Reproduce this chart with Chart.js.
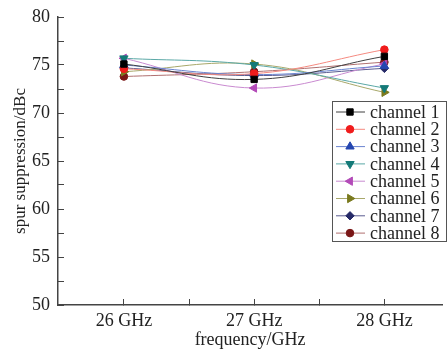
<!DOCTYPE html>
<html>
<head>
<meta charset="utf-8">
<script src="https://cdn.jsdelivr.net/npm/chart.js@4"></script>
<style>
  html, body { margin: 0; padding: 0; background: #fff; }
  #wrap { width: 448px; height: 353px; position: relative; }
</style>
</head>
<body>
<div id="wrap"><canvas id="chart"></canvas></div>
<script>
// frequencies in GHz
const freqs = [26, 27, 28];
const tickLabels = ["26 GHz", "27 GHz", "28 GHz"];

const channelNames = ["channel 1", "channel 2", "channel 3", "channel 4",
                      "channel 5", "channel 6", "channel 7", "channel 8"];

const ch1 = [75.1, 73.5, 75.9];
const ch2 = [74.6, 74.1, 76.6];
const ch3 = [75.0, 74.0, 74.9];
const ch4 = [75.7, 75.0, 72.6];
const ch5 = [75.7, 72.6, 75.1];
const ch6 = [74.3, 75.1, 72.15];
const ch7 = [74.7, 73.9, 74.65];
const ch8 = [73.8, 74.3, 75.3];

const series = [ch1, ch2, ch3, ch4, ch5, ch6, ch7, ch8];
const markerColors = ["#000000", "#f01c1c", "#2446b0", "#147a78", "#b34ab8", "#7a7a1e", "#262a68", "#7a1616"];
const lineColors   = ["#404040", "#f58a80", "#6a84d0", "#5aa8a6", "#c98ad0", "#a8a86a", "#5a5c90", "#b07070"];
const markers = ["rect", "circle", "triangle", "triangle", "triangle", "triangle", "rectRot", "circle"];
const rotations = [0, 0, 0, 180, 270, 90, 0, 0];
const sizes = [4.5, 3.8, 4.8, 4.8, 4.8, 4.8, 4.2, 3.8];

const font = "'Liberation Serif', 'Times New Roman', serif";

const datasets = series.map((vals, i) => ({
    label: channelNames[i],
    data: vals.map((v, j) => ({ x: freqs[j], y: v })),
    borderColor: lineColors[i],
    pointBorderColor: markerColors[i],
    pointBackgroundColor: markerColors[i],
    pointStyle: markers[i],
    pointRotation: rotations[i],
    pointRadius: sizes[i],
    borderWidth: 1,
    tension: 0.4
}));

// boxed legend inside the plot area, on the right
const boxLegend = {
    id: "boxLegend",
    afterDraw(chart) {
        const ctx = chart.ctx;
        ctx.save();
        ctx.fillStyle = "#fff";
        ctx.fillRect(332.5, 101.5, 114, 140);
        ctx.strokeStyle = "#555";
        ctx.lineWidth = 1;
        ctx.strokeRect(332.5, 101.5, 114, 140);
        ctx.font = "18px " + font;
        ctx.textBaseline = "middle";
        chart.data.datasets.forEach((ds, i) => {
            const y = 112 + i * 17.3;
            ctx.strokeStyle = ds.borderColor;
            ctx.lineWidth = 1;
            ctx.beginPath();
            ctx.moveTo(336, y);
            ctx.lineTo(365, y);
            ctx.stroke();
            ctx.fillStyle = ds.pointBackgroundColor;
            ctx.strokeStyle = ds.pointBorderColor;
            Chart.helpers.drawPoint(ctx, {
                pointStyle: ds.pointStyle,
                rotation: ds.pointRotation,
                radius: ds.pointRadius,
                borderWidth: 1
            }, 350, y);
            ctx.fillStyle = "#222";
            ctx.fillText(ds.label, 370, y + 1);
        });
        ctx.restore();
    }
};

new Chart(document.getElementById("chart"), {
    type: "line",
    data: { datasets },
    plugins: [boxLegend],
    options: {
        responsive: true,
        maintainAspectRatio: false,
        animation: false,
        layout: { padding: { top: 17, right: 0, left: 10, bottom: 0 } },
        plugins: {
            legend: { display: false },
            tooltip: { enabled: false }
        },
        scales: {
            x: {
                type: "linear",
                min: 25.494,
                max: 28.444,
                afterBuildTicks(axis) {
                    axis.ticks = [25.5, 26, 26.5, 27, 27.5, 28].map(v => ({ value: v }));
                },
                afterFit(axis) {
                    axis.paddingRight = 0;
                    axis.paddingLeft = 0;
                    axis.height = 48;
                },
                grid: {
                    drawOnChartArea: false,
                    drawTicks: true,
                    tickLength: -6,
                    color: (c) => (c.tick && c.tick.value === 25.5) ? "rgba(0,0,0,0)" : "#444",
                    tickWidth: 1
                },
                border: { color: "#444", width: 1.5 },
                ticks: {
                    color: "#222",
                    font: { family: font, size: 18 },
                    padding: 11,
                    autoSkip: false,
                    maxRotation: 0,
                    callback: (v) => {
                        const i = freqs.indexOf(v);
                        return i >= 0 ? tickLabels[i] : "";
                    }
                },
                title: {
                    display: true,
                    text: "frequency/GHz",
                    color: "#222",
                    font: { family: font, size: 18 },
                    padding: { top: 0, bottom: 2 }
                }
            },
            y: {
                min: 50,
                max: 80,
                afterBuildTicks(axis) {
                    const t = [];
                    for (let v = 50; v <= 80; v += 2.5) t.push({ value: v });
                    axis.ticks = t;
                },
                afterFit(axis) {
                    axis.paddingTop = 0;
                    axis.paddingBottom = 0;
                    axis.width = 48;
                },
                grid: {
                    drawOnChartArea: false,
                    drawTicks: true,
                    tickLength: -6,
                    color: "#444",
                    tickWidth: 1
                },
                border: { color: "#444", width: 1.5 },
                ticks: {
                    color: "#222",
                    font: { family: font, size: 18 },
                    padding: 14,
                    autoSkip: false,
                    callback: (v) => (v % 5 === 0 ? String(v) : "")
                },
                title: {
                    display: true,
                    text: "spur suppression/dBc",
                    color: "#222",
                    font: { family: font, size: 17 },
                    padding: { top: 0, bottom: 0 }
                }
            }
        }
    }
});
</script>
</body>
</html>
